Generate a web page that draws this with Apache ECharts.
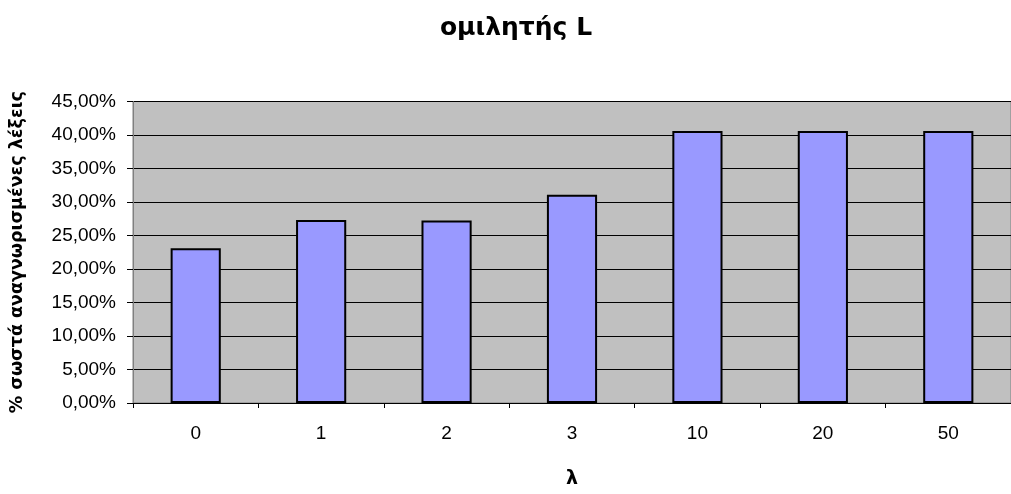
<!DOCTYPE html>
<html>
<head>
<meta charset="utf-8">
<script src="https://cdn.jsdelivr.net/npm/echarts@6/dist/echarts.min.js"></script>
<style>
html,body{margin:0;padding:0;background:#fff;}
#chart{width:1011px;height:494px;}
</style>
</head>
<body>
<div id="chart"></div>
<script>
const categories = ['0', '1', '2', '3', '10', '20', '50'];
const values = [23.1, 27.3, 27.25, 31.1, 40.6, 40.6, 40.6];
const yTicks = {min: 0, max: 45, interval: 5};
const titleText = 'ομιλητής L';
const xName = 'λ';
const yName = '% σωστά αναγνωρισμένες λέξεις';

const chart = echarts.init(document.getElementById('chart'), null, {renderer: 'canvas'});
const font = '"Liberation Sans", Arial, sans-serif';
const boldFont = '"DejaVu Sans", Verdana, sans-serif';
chart.setOption({
  animation: false,
  title: {
    text: titleText,
    left: 511,
    textAlign: 'center',
    top: 11,
    textStyle: {fontFamily: boldFont, fontSize: 25, fontWeight: 'bold', color: '#000'}
  },
  grid: {
    left: 132, right: -9, top: 101.5, bottom: 83,
    show: true, backgroundColor: '#c0c0c0', borderColor: '#808080', borderWidth: 1,
    containLabel: false
  },
  xAxis: {
    type: 'category',
    data: categories,
    name: xName,
    nameLocation: 'middle',
    nameGap: 67,
    nameTextStyle: {fontFamily: boldFont, fontSize: 19, fontWeight: 'bold', color: '#000'},
    axisLine: {show: true, lineStyle: {color: '#000', width: 1}},
    axisTick: {show: true, inside: false, length: 5, lineStyle: {color: '#000'}},
    axisLabel: {fontFamily: font, fontSize: 19, color: '#000', margin: 21},
    splitLine: {show: false}
  },
  yAxis: {
    type: 'value',
    min: yTicks.min, max: yTicks.max, interval: yTicks.interval,
    name: yName,
    nameLocation: 'middle',
    nameGap: 107,
    nameTextStyle: {fontFamily: boldFont, fontSize: 17.5, fontWeight: 'bold', color: '#000'},
    axisLine: {show: true, lineStyle: {color: '#808080', width: 1}},
    axisTick: {show: true, inside: false, length: 6, lineStyle: {color: '#000'}},
    axisLabel: {
      fontFamily: font, fontSize: 19, color: '#000', margin: 17,
      formatter: v => v.toFixed(2).replace('.', ',') + '%'
    },
    splitLine: {show: true, lineStyle: {color: '#000', width: 1}}
  },
  series: [{
    type: 'bar',
    data: values,
    barWidth: '40%',
    itemStyle: {color: '#9999ff', borderColor: '#000', borderWidth: 2}
  }]
});
</script>
</body>
</html>
